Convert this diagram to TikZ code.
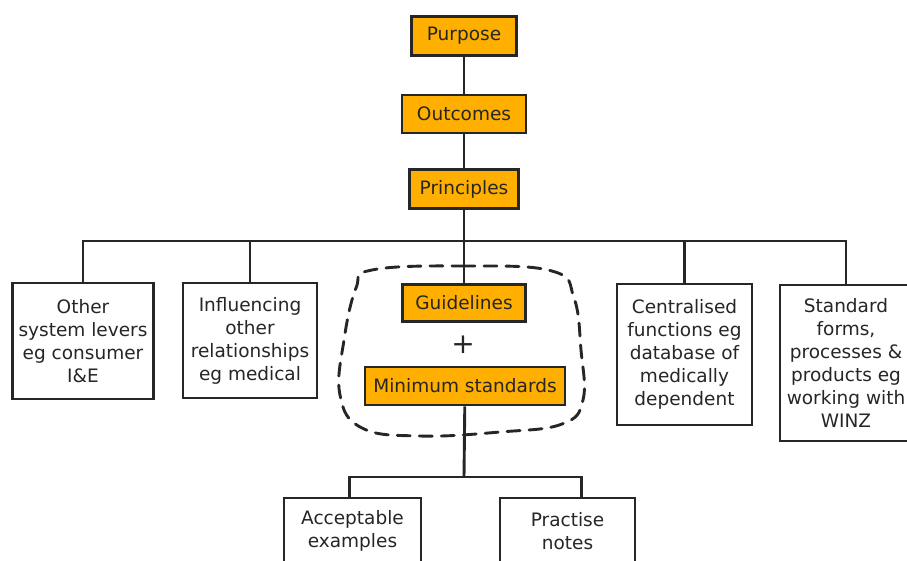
\documentclass[tikz,border=0pt]{standalone}
\usepackage{fontspec}
\setmainfont{DejaVu Sans}
\begin{document}
\definecolor{ink}{HTML}{262626}
\definecolor{amber}{HTML}{FFAF00}
\begin{tikzpicture}[x=1pt,y=-1pt,
  every node/.style={font=\fontsize{18.5}{23}\selectfont, text=ink},
  keybox/.style={draw=ink, line width=2.9pt, fill=amber, rectangle, inner sep=0pt, align=center},
  sidebox/.style={draw=ink, line width=2.9pt, fill=white, rectangle, inner sep=0pt, align=center},
  link/.style={draw=ink, line width=2.9pt},
  halo/.style={draw=ink, line width=2.9pt, dash pattern=on 13pt off 9pt, line cap=round}]
\useasboundingbox (0,0) rectangle (907,560);

% main spine
\node[keybox, minimum width=105pt, minimum height=39pt] (purpose) at (464,36) {Purpose};
\node[keybox, minimum width=124pt, minimum height=38pt] (outcomes) at (464,114) {Outcomes};
\node[keybox, minimum width=109pt, minimum height=39pt] (principles) at (464,189) {Principles};
\node[keybox, minimum width=123pt, minimum height=37pt] (guide) at (464,303) {Guidelines};
\node (plus) at (463,345) {\fontsize{28}{28}\selectfont +};
\node[keybox, minimum width=200pt, minimum height=38pt] (minstd) at (465,386) {Minimum standards};

% grouping around guidelines and standards
\draw[halo] plot[smooth cycle, tension=0.7] coordinates {(372,270) (462,266) (552,271) (574,298) (581,350) (583,400) (562,424) (500,432) (420,436) (362,428) (340,395) (344,340) (356,288)};

% side branches
\node[sidebox, minimum width=141pt, minimum height=116pt] (levers) at (83,341)
  {Other\\system levers\\eg consumer\\I\&E};
\node[sidebox, minimum width=134pt, minimum height=115pt] (influence) at (250,340.5)
  {Influencing\\other\\relationships\\eg medical};
\node[sidebox, minimum width=135pt, minimum height=141pt] (central) at (684.5,354.5)
  {Centralised\\functions eg\\database of\\medically\\dependent};
\node[sidebox, minimum width=132pt, minimum height=156pt] (forms) at (846,363)
  {Standard\\forms,\\processes \&\\products eg\\working with\\WINZ};

% lower branches
\node[sidebox, minimum width=137pt, minimum height=66pt] (accept) at (352.5,531)
  {Acceptable\\examples};
\node[sidebox, minimum width=135pt, minimum height=66pt] (practise) at (567.5,531)
  {Practise\\notes};

\coordinate (bus) at (464,241);
\coordinate (split) at (464,477);

\path[link] (purpose) -- (outcomes);
\path[link] (outcomes) -- (principles);
\path[link] (principles) -- (guide);
\path[link] (levers.north) |- (bus) -| (forms.north);
\path[link] (influence.north) -- (influence.north |- bus);
\path[link] (central.north) -- (central.north |- bus);
\path[link] (minstd) -- (split);
\path[link] ([xshift=-3pt]accept.north) |- (split) -| ([xshift=14pt]practise.north);
\end{tikzpicture}
\end{document}
